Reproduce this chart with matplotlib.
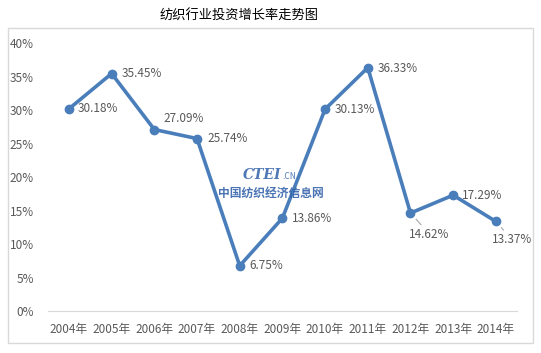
import matplotlib
matplotlib.use('Agg')
import matplotlib.pyplot as plt
from matplotlib.patches import Rectangle

plt.rcParams['font.family'] = ['Noto Sans CJK SC', 'DejaVu Sans']

# ── Data ─────────────────────────────────────────────────────────
years = ['2004年', '2005年', '2006年', '2007年', '2008年', '2009年',
         '2010年', '2011年', '2012年', '2013年', '2014年']
growth = [30.18, 35.45, 27.09, 25.74, 6.75, 13.86, 30.13, 36.33, 14.62, 17.29, 13.37]
y_ticks = [0, 5, 10, 15, 20, 25, 30, 35, 40]

# label offsets in pixels (dx, dy), alignment, leader line
label_pos = [(9, 0, 'left', False), (10, 0, 'left', False), (9, 11, 'left', False),
             (10, 0, 'left', False), (10, 0, 'left', False), (10, 0, 'left', False),
             (10, 0, 'left', False), (10, -1, 'left', False), (19, -21, 'center', True),
             (9, 0, 'left', False), (16, -18, 'center', True)]

blue = '#4a7ebb'
gray = '#595959'

fig = plt.figure(figsize=(5.41, 3.53), dpi=100)
fig.patches.append(Rectangle((0.0148, 0.028), 0.97, 0.893, transform=fig.transFigure,
                             fill=False, edgecolor='#d9d9d9', lw=1))
fig.text(0.442, 0.955, '纺织行业投资增长率走势图', ha='center', va='center',
         fontsize=9.5, color='black')

ax = fig.add_axes([0.088, 0.119, 0.868, 0.759])
x = range(len(years))
ax.plot(x, growth, color=blue, lw=2.6, marker='o', ms=6, zorder=3)

for i, (v, (dx, dy, ha, lead)) in enumerate(zip(growth, label_pos)):
    ax.annotate(f'{v:.2f}%', (i, v), xytext=(dx, dy), textcoords='offset pixels',
                ha=ha, va='center', fontsize=8.5, color=gray,
                arrowprops=dict(arrowstyle='-', color='#a6a6a6', lw=0.8,
                                shrinkA=0, shrinkB=6) if lead else None)

ax.set_xlim(-0.5, len(years) - 0.5)
ax.set_ylim(0, 40)
ax.set_xticks(list(x))
ax.set_xticklabels(years)
ax.set_yticks(y_ticks)
ax.set_yticklabels([f'{t}%' for t in y_ticks])
ax.tick_params(length=0, labelsize=8.5, labelcolor=gray)
ax.tick_params(axis='x', pad=9)
ax.tick_params(axis='y', pad=10)
for s in ['top', 'right', 'left']:
    ax.spines[s].set_visible(False)
ax.spines['bottom'].set_color('#d9d9d9')

# watermark
fig.text(0.485, 0.505, 'CTEI', fontsize=10, fontweight='bold', style='italic',
         color='#2e5fa8', ha='center', va='center', family='DejaVu Serif', alpha=0.85)
fig.text(0.535, 0.500, '.CN', fontsize=6, color='#2e5fa8', ha='center', va='center',
         style='italic', alpha=0.85)
fig.text(0.5, 0.453, '中国纺织经济信息网', fontsize=8.5, fontweight='bold',
         color='#2b5ca8', ha='center', va='center', alpha=0.85)

fig.savefig('out.png', dpi=100)
